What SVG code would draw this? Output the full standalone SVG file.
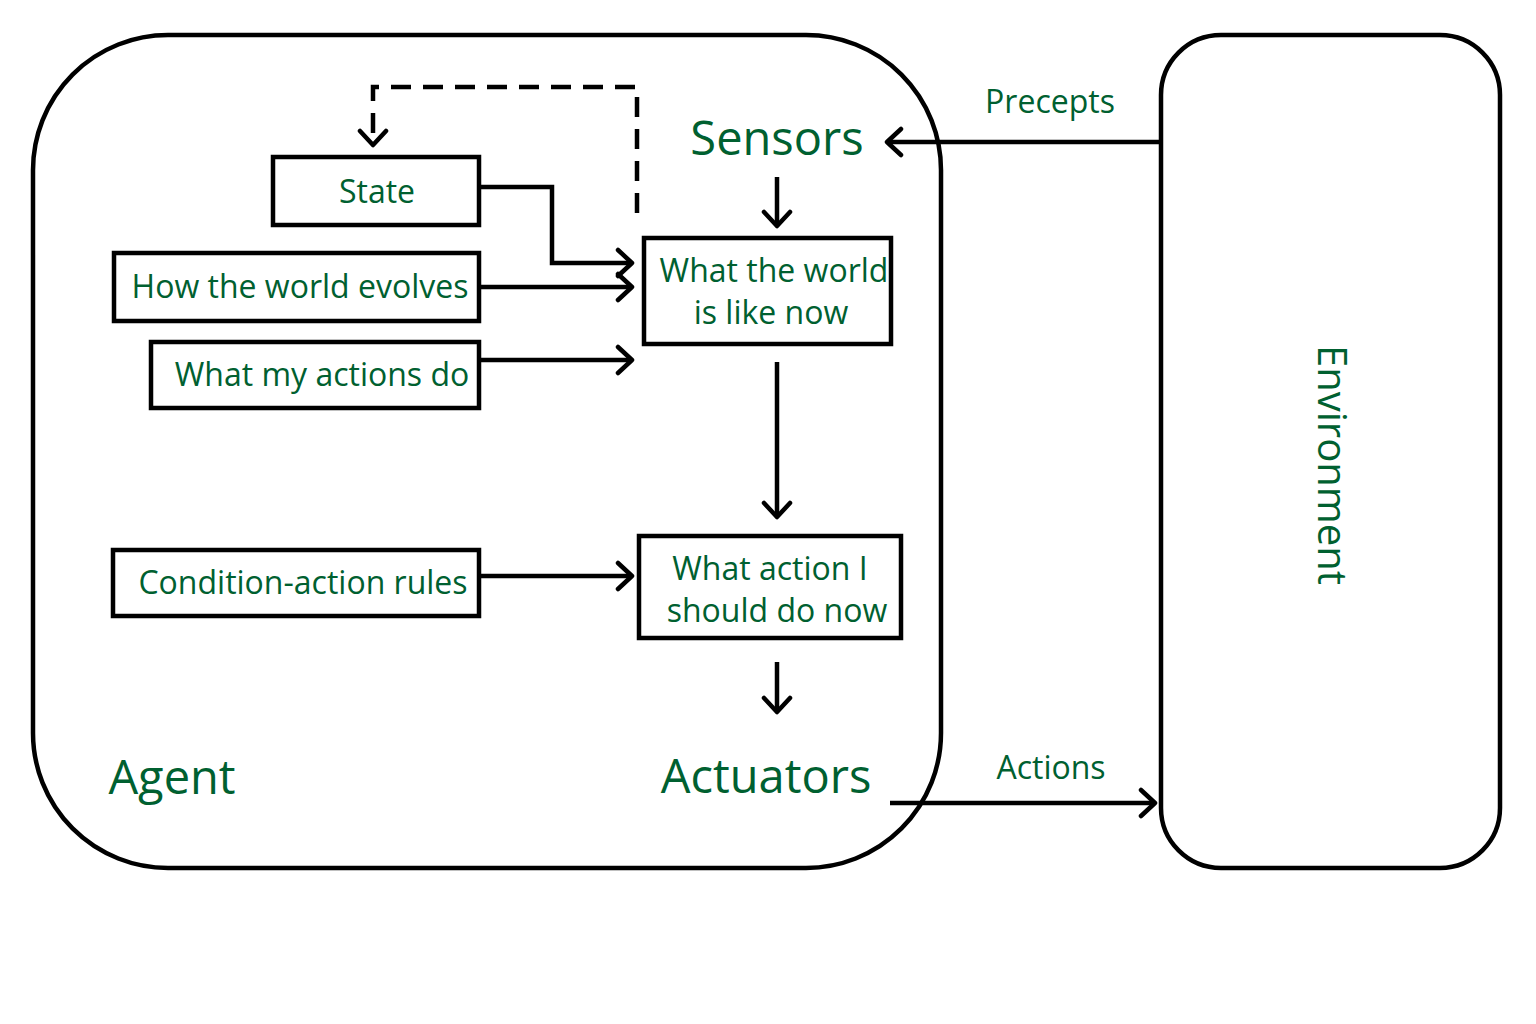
<svg xmlns="http://www.w3.org/2000/svg" width="1536" height="1024" viewBox="0 0 1536 1024">
<defs>
<style>
.frame{fill:none;stroke:#000;stroke-width:4.5}
.box{fill:#fff;stroke:#000;stroke-width:4.5}
.ln{fill:none;stroke:#000;stroke-width:4.5}
.t{font-family:"Open Sans","Noto Sans",sans-serif;fill:#006030;text-anchor:middle}
.s{font-size:32px}
.l{font-size:47px}
</style>
<marker id="ah" viewBox="0 0 22 32" refX="19" refY="16" markerWidth="22" markerHeight="32" markerUnits="userSpaceOnUse" orient="auto">
<polyline points="5,3 19,16 5,29" fill="none" stroke="#000" stroke-width="4.5" stroke-linecap="round" stroke-linejoin="round"/>
</marker>
</defs>
<rect width="1536" height="1024" fill="#fff"/>
<g id="agent">
<rect class="frame" x="33" y="35" width="908" height="833" rx="135" ry="135"/>
<text class="t l" x="172" y="794">Agent</text>
</g>
<g id="environment">
<rect class="frame" x="1161" y="35" width="339" height="833" rx="60" ry="60"/>
<text class="t" transform="translate(1318,465) rotate(90)" x="0" y="0" style="font-size:40px">Environment</text>
</g>
<g id="sensors"><text class="t l" x="777" y="155">Sensors</text></g>
<g id="actuators"><text class="t l" x="766" y="793">Actuators</text></g>
<g id="state">
<rect class="box" x="273" y="157" width="206" height="68"/>
<text class="t s" x="377" y="203">State</text>
</g>
<g id="evolves">
<rect class="box" x="114" y="253" width="365" height="68"/>
<text class="t s" x="300" y="298">How the world evolves</text>
</g>
<g id="actionsdo">
<rect class="box" x="151" y="342" width="328" height="66"/>
<text class="t s" x="322" y="386">What my actions do</text>
</g>
<g id="rules">
<rect class="box" x="113" y="550" width="366" height="66"/>
<text class="t s" x="303" y="594">Condition-action rules</text>
</g>
<g id="world">
<rect class="box" x="644" y="238" width="247" height="106"/>
<text class="t s" x="774" y="282">What the world</text>
<text class="t s" x="771" y="324">is like now</text>
</g>
<g id="action">
<rect class="box" x="639" y="536" width="262" height="102"/>
<text class="t s" x="770" y="580">What action I</text>
<text class="t s" x="777" y="622">should do now</text>
</g>
<g id="labels">
<text class="t s" x="1050" y="113">Precepts</text>
<text class="t s" x="1051" y="779">Actions</text>
</g>
<g id="connectors">
<polyline class="ln" points="637,213 637,87 373,87 373,145" stroke-dasharray="20,12" marker-end="url(#ah)"/>
<polyline class="ln" points="479,187 552,187 552,263 632,263" marker-end="url(#ah)"/>
<line class="ln" x1="479" y1="287" x2="632" y2="287" marker-end="url(#ah)"/>
<line class="ln" x1="479" y1="360" x2="632" y2="360" marker-end="url(#ah)"/>
<line class="ln" x1="479" y1="576" x2="632" y2="576" marker-end="url(#ah)"/>
<line class="ln" x1="777" y1="177" x2="777" y2="226" marker-end="url(#ah)"/>
<line class="ln" x1="777" y1="362" x2="777" y2="517" marker-end="url(#ah)"/>
<line class="ln" x1="777" y1="662" x2="777" y2="712" marker-end="url(#ah)"/>
<line class="ln" x1="1161" y1="142" x2="887" y2="142" marker-end="url(#ah)"/>
<line class="ln" x1="890" y1="803" x2="1155" y2="803" marker-end="url(#ah)"/>
</g>
</svg>
